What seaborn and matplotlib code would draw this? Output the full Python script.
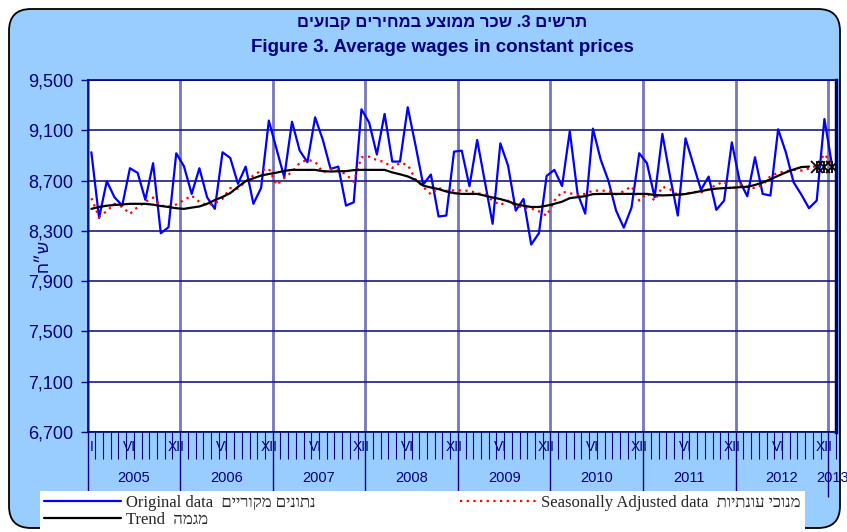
import numpy as np
import pandas as pd
import seaborn as sns
import matplotlib.pyplot as plt
from matplotlib.patches import FancyBboxPatch

# Monthly series, Jan 2005 - Jan 2013
years = [2005, 2006, 2007, 2008, 2009, 2010, 2011, 2012, 2013]
roman = ['I', 'II', 'III', 'IV', 'V', 'VI', 'VII', 'VIII', 'IX', 'X', 'XI', 'XII']

original = [
    8925, 8403, 8695, 8567, 8501, 8798, 8761, 8547, 8838, 8281, 8329, 8917,
    8814, 8594, 8798, 8567, 8475, 8925, 8880, 8674, 8811, 8515, 8642, 9177,
    8950, 8726, 9168, 8938, 8846, 9203, 9023, 8793, 8811, 8501, 8527, 9267,
    9161, 8907, 9230, 8851, 8851, 9283, 8983, 8668, 8748, 8414, 8422, 8930,
    8938, 8655, 9023, 8690, 8356, 8996, 8819, 8461, 8554, 8191, 8281, 8737,
    8785, 8656, 9093, 8600, 8437, 9113, 8868, 8700, 8461, 8325, 8485, 8917,
    8838, 8567, 9071, 8730, 8422, 9036, 8830, 8626, 8732, 8467, 8541, 9004,
    8700, 8575, 8885, 8594, 8581, 9108, 8925, 8687, 8589, 8480, 8541, 9190,
    8815,
]

seasonal = [
    8560, 8410, 8458, 8515, 8490, 8435, 8490, 8530, 8565, 8500, 8495, 8510,
    8545, 8580, 8530, 8505, 8520, 8555, 8640, 8635, 8695, 8740, 8780, 8795,
    8665, 8720, 8770, 8840, 8865, 8850, 8765, 8790, 8780, 8750, 8690, 8885,
    8890, 8862, 8848, 8800, 8840, 8825, 8710, 8650, 8590, 8642, 8618, 8622,
    8622, 8618, 8599, 8590, 8540, 8505, 8540, 8500, 8485, 8478, 8455, 8420,
    8540, 8610, 8600, 8584, 8595, 8620, 8620, 8618, 8590, 8615, 8655, 8541,
    8600, 8540, 8652, 8630, 8585, 8595, 8610, 8605, 8630, 8668, 8690, 8626,
    8670, 8650, 8640, 8665, 8735, 8762, 8774, 8785, 8780, 8795, 8820, 8910,
    8830,
]

trend = [
    8475, 8490, 8500, 8506, 8510, 8515, 8515, 8515, 8508, 8498, 8490, 8480,
    8475, 8485, 8494, 8515, 8545, 8570, 8600, 8650, 8695, 8718, 8740, 8752,
    8763, 8777, 8785, 8785, 8785, 8785, 8775, 8772, 8774, 8775, 8783, 8785,
    8785, 8785, 8785, 8765, 8750, 8733, 8705, 8660, 8645, 8632, 8613, 8600,
    8594, 8594, 8594, 8580, 8565, 8553, 8535, 8512, 8500, 8490, 8490, 8500,
    8515, 8532, 8560, 8568, 8576, 8592, 8594, 8594, 8594, 8594, 8594, 8594,
    8594, 8585, 8582, 8584, 8588, 8593, 8604, 8616, 8628, 8636, 8640, 8643,
    8647, 8651, 8665, 8685, 8710, 8738, 8765, 8788, 8807, 8811,
]
# last three trend points shown only as markers
trend_tail = [8811, 8809, 8806]

# months with a label under the axis (first year also gets "I")
shown_months = {2005: [0, 5, 11]}
for y in years[1:-1]:
    shown_months[y] = [5, 11]

NAVY = '#000080'


def rtl(s):
    # matplotlib has no bidi support, so Hebrew is reversed for display
    return s[::-1]


n = len(original)
df = pd.DataFrame({'t': np.arange(n), 'original': original, 'seasonal': seasonal})
df_trend = pd.DataFrame({'t': np.arange(len(trend)), 'trend': trend})
tail_t = np.arange(len(trend), len(trend) + len(trend_tail))

sns.set_theme(style='white')
plt.rcParams['font.family'] = ['Liberation Sans', 'DejaVu Sans']

fig = plt.figure(figsize=(8.47, 5.32), dpi=100, facecolor='white')

# light-blue rounded chart frame
frame = FancyBboxPatch((0.09, 0.04), 8.31, 5.19,
                       boxstyle='round,pad=0,rounding_size=0.22',
                       transform=fig.dpi_scale_trans, facecolor='#99CCFF',
                       edgecolor='black', linewidth=1.3, zorder=-5)
fig.add_artist(frame)

W, H = 847, 532
ax = fig.add_axes([87.5 / W, 100 / H, (836 - 87.5) / W, 352 / H])
ax.set_facecolor('white')

lab_orig = 'Original data  ' + rtl('נתונים מקוריים')
lab_sa = 'Seasonally Adjusted data  ' + rtl('מנוכי עונתיות')
lab_tr = 'Trend  ' + rtl('מגמה')

sns.lineplot(data=df, x='t', y='original', ax=ax, color='#0000FF',
             linewidth=1.6, label=lab_orig)
sns.lineplot(data=df, x='t', y='seasonal', ax=ax, color='#FF0000',
             linewidth=1.6, linestyle=(0, (1, 2)), label=lab_sa)
sns.lineplot(data=df_trend, x='t', y='trend', ax=ax, color='black',
             linewidth=1.6, label=lab_tr)
ax.plot(tail_t, trend_tail, ls='none', marker='x', ms=8, mew=1.3, color='black')
ax.plot(tail_t, trend_tail, ls='none', marker='|', ms=9, mew=1.3, color='black')

if ax.get_legend() is not None:
    ax.get_legend().remove()

# axes ranges and y ticks
ax.set_xlim(-0.5, n - 0.5)
ax.set_ylim(6700, 9500)
yticks = list(range(6700, 9501, 400))
ax.set_yticks(yticks)
ax.set_yticklabels([f'{v:,}' for v in yticks], fontsize=13, color=NAVY)
ax.set_xlabel('')
ax.set_ylabel('')

# x ticks: long marks between years, short marks between months
year_edges = [-0.5 + 12 * k for k in range(len(years))]
month_edges = [-0.5 + k for k in range(n + 1)]
ax.set_xticks(year_edges)
ax.set_xticks(month_edges, minor=True)
ax.set_xticklabels([])
ax.tick_params(axis='x', which='major', direction='out', length=47, width=1,
               color=NAVY, bottom=True)
ax.tick_params(axis='x', which='minor', direction='out', length=19.5, width=0.8,
               color=NAVY, bottom=True)
ax.tick_params(axis='y', direction='out', length=5, width=1, color=NAVY,
               left=True, pad=5)

ax.grid(axis='y', color='#1A1A80', linewidth=1.2)
ax.grid(axis='x', which='major', color='#7777BB', linewidth=2)
ax.set_axisbelow(True)

for side in ['left', 'bottom', 'top']:
    ax.spines[side].set_color(NAVY)
    ax.spines[side].set_linewidth(1.2)
ax.spines['right'].set_color('#000066')
ax.spines['right'].set_linewidth(2.5)

# month and year labels under the axis
xt = ax.get_xaxis_transform()
for k, y in enumerate(years):
    for m in shown_months.get(y, []):
        ax.text(12 * k + m, -15 / 352, roman[m], transform=xt, ha='center',
                va='center', fontsize=10, color=NAVY)
    if y < years[-1]:
        ax.text(12 * k + 5.5, -46 / 352, str(y), transform=xt, ha='center',
                va='center', fontsize=10.5, color=NAVY)
    else:
        ax.text(12 * k, -46 / 352, str(y), transform=xt, ha='center',
                va='center', fontsize=10.5, color=NAVY, clip_on=False)

# titles and unit label
fig.text(442 / W, 1 - 22 / H, rtl('תרשים 3. שכר ממוצע במחירים קבועים'),
         ha='center', va='center', fontsize=12, fontweight='bold', color=NAVY)
fig.text(442 / W, 1 - 47 / H, 'Figure 3. Average wages in constant prices',
         ha='center', va='center', fontsize=13.5, fontweight='bold', color=NAVY)
fig.text(43 / W, 1 - 255 / H, rtl('ש״ח'), rotation=90, ha='center',
         va='center', fontsize=12, color=NAVY)

# legend in a white strip at the bottom
handles, labels = ax.get_legend_handles_labels()
order = [labels.index(lab_orig), labels.index(lab_tr), labels.index(lab_sa)]
leg = fig.legend([handles[i] for i in order], [labels[i] for i in order],
                 ncol=2, loc='lower left', mode='expand',
                 bbox_to_anchor=(40 / W, 0, 765 / W, 45 / H),
                 frameon=True, fancybox=False, facecolor='white',
                 edgecolor='white', framealpha=1, borderaxespad=0,
                 borderpad=0.25, labelspacing=0.05, handlelength=4.6,
                 handletextpad=0.3,
                 prop={'family': ['Liberation Serif', 'DejaVu Sans'], 'size': 12})
leg.get_frame().set_linewidth(0)

plt.savefig('out.png', dpi=100, facecolor='white')
